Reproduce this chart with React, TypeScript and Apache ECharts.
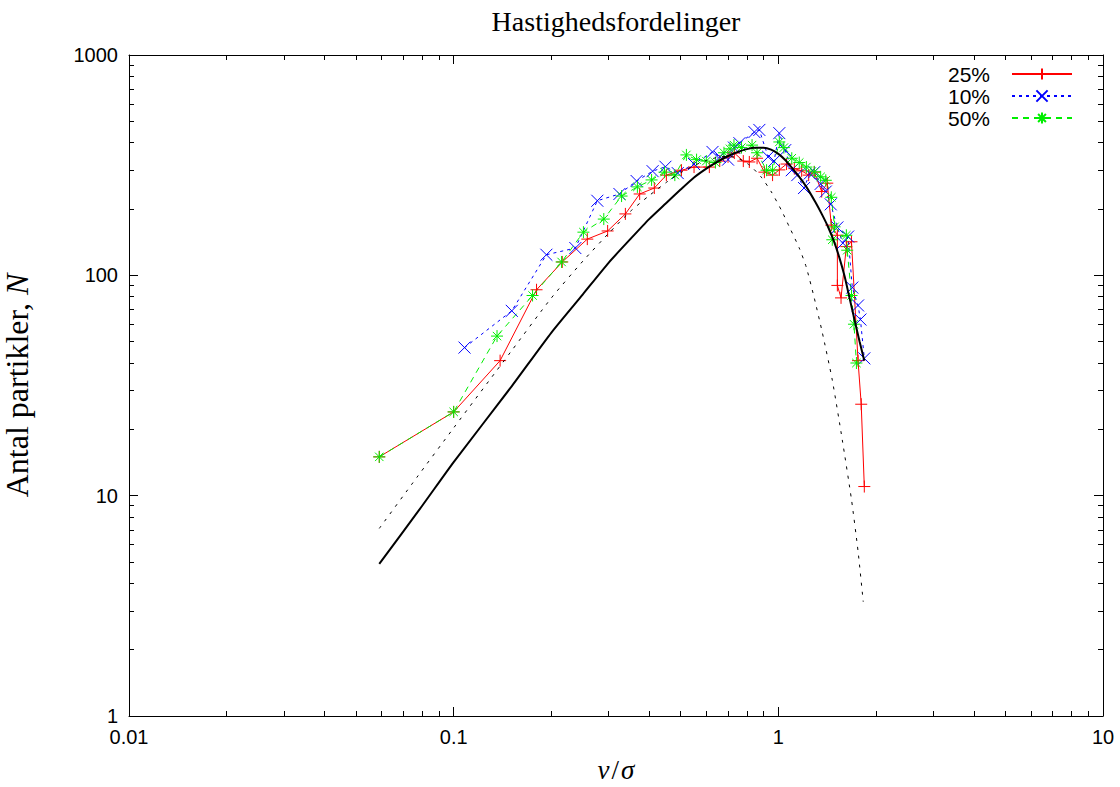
import React, { useEffect, useRef } from "react";
import * as echarts from "echarts";

const xTickLabels = ["0.01", "0.1", "1", "10"];
const yTickLabels = ["1", "10", "100", "1000"];

const seriesNames = ["25%", "10%", "50%"];

const red25: [number, number][] = [
  [0.059, 15], [0.1, 24], [0.139, 41], [0.18, 86], [0.216, 115], [0.258, 146],
  [0.298, 159], [0.338, 190], [0.374, 234], [0.415, 249], [0.452, 285], [0.503, 300],
  [0.55, 310], [0.613, 310], [0.66, 330], [0.7, 345], [0.732, 359], [0.78, 330],
  [0.814, 327], [0.86, 340], [0.906, 294], [0.96, 285], [1.007, 301], [1.06, 320],
  [1.12, 305], [1.18, 298], [1.24, 285], [1.29, 294], [1.36, 240], [1.415, 262],
  [1.456, 169], [1.52, 152], [1.52, 90], [1.56, 79], [1.62, 135], [1.68, 142],
  [1.76, 41], [1.8, 26], [1.84, 11],
];

const blue10: [number, number][] = [
  [0.108, 47], [0.151, 69], [0.193, 124], [0.237, 133], [0.277, 218], [0.324, 234],
  [0.366, 268], [0.41, 297], [0.449, 311], [0.49, 291], [0.55, 320], [0.627, 363],
  [0.66, 345], [0.7, 335], [0.73, 380], [0.759, 398], [0.844, 447], [0.874, 457],
  [0.93, 345], [0.97, 330], [1.007, 442], [1.05, 370], [1.1, 300], [1.144, 285],
  [1.2, 249], [1.25, 290], [1.29, 294], [1.35, 260], [1.4, 240], [1.45, 210],
  [1.52, 165], [1.58, 140], [1.64, 150], [1.69, 88], [1.76, 73], [1.79, 63], [1.84, 42],
];

const green50: [number, number][] = [
  [0.059, 15], [0.1, 24], [0.136, 53], [0.175, 81], [0.215, 115], [0.251, 157],
  [0.29, 180], [0.329, 229], [0.368, 252], [0.407, 271], [0.446, 294], [0.48, 285],
  [0.521, 352], [0.56, 335], [0.6, 330], [0.64, 325], [0.68, 360], [0.71, 375],
  [0.73, 390], [0.77, 380], [0.83, 390], [0.86, 360], [0.92, 300], [0.96, 300],
  [1.007, 403], [1.04, 380], [1.1, 340], [1.16, 325], [1.22, 310], [1.29, 295],
  [1.35, 280], [1.4, 270], [1.456, 226], [1.49, 166], [1.466, 145], [1.62, 152],
  [1.63, 130], [1.68, 81], [1.71, 60], [1.74, 40],
];

const fitSolid: [number, number][] = [
  [0.059, 4.9], [0.08, 9], [0.1, 14.2], [0.15, 31], [0.2, 55], [0.25, 82],
  [0.3, 114], [0.35, 146], [0.4, 180], [0.45, 212], [0.5, 245], [0.55, 278],
  [0.6, 305], [0.65, 328], [0.7, 348], [0.75, 363], [0.8, 374], [0.85, 379],
  [0.9, 379], [0.95, 372], [1.0, 356], [1.05, 334], [1.1, 308], [1.16, 280],
  [1.22, 252], [1.3, 215], [1.36, 190], [1.42, 167], [1.48, 144], [1.54, 121],
  [1.6, 99], [1.66, 78], [1.72, 62], [1.78, 50], [1.84, 41],
];

const fitDashed: [number, number][] = [
  [0.059, 7.1], [0.077, 12.1], [0.1, 20.3], [0.15, 45], [0.2, 79], [0.25, 116],
  [0.3, 155], [0.35, 195], [0.4, 230], [0.45, 263], [0.5, 292], [0.55, 315],
  [0.6, 332], [0.65, 343], [0.7, 347], [0.75, 340], [0.814, 317], [0.886, 279],
  [0.952, 239], [1.021, 198], [1.081, 166], [1.16, 133], [1.219, 109], [1.29, 79],
  [1.366, 55], [1.466, 33.5], [1.574, 17.9], [1.68, 9.6], [1.76, 5.6], [1.826, 3.3],
];

const plusPath = "path://M0,-6L0,6M-6,0L6,0";
const crossPath = "path://M-5,-5L5,5M-5,5L5,-5";
const starPath = "path://M0,-6L0,6M-6,0L6,0M-4.2,-4.2L4.2,4.2M-4.2,4.2L4.2,-4.2";

const findLabel = (labels: string[], v: number) =>
  labels.find((t) => Math.abs(Math.log10(+t) - Math.log10(v)) < 1e-6) ?? "";

const sansFont = "'Liberation Sans', Arial, sans-serif";
const serifFont = "'Liberation Serif', 'DejaVu Serif', serif";

export default function App() {
  const ref = useRef<HTMLDivElement>(null);

  useEffect(() => {
    if (!ref.current) return;
    const chart = echarts.init(ref.current, undefined, { renderer: "svg" });

    const axisCommon = {
      type: "log" as const,
      logBase: 10,
      axisLine: { show: true, onZero: false, lineStyle: { color: "#000", width: 1 } },
      axisTick: { show: true, inside: true, length: 9, lineStyle: { color: "#000" } },
      minorTick: { show: true, splitNumber: 9, length: 5, lineStyle: { color: "#000" } },
      splitLine: { show: false },
      minorSplitLine: { show: false },
    };

    const mk = (name: string, data: [number, number][], color: string, dash: any, symbol: string) => ({
      name,
      type: "line" as const,
      data,
      symbol,
      symbolSize: 12,
      showSymbol: true,
      lineStyle: { color, width: 1, type: dash },
      itemStyle: { color, borderColor: color, borderWidth: 1 },
      z: 3,
    });

    chart.setOption({
      animation: false,
      grid: {
        left: 129,
        right: 17,
        top: 55,
        bottom: 71,
        containLabel: false,
        outerBoundsMode: "none",
      },
      graphic: [
        {
          type: "text",
          x: 616,
          y: 21,
          style: {
            text: "Hastighedsfordelinger",
            font: `28px ${serifFont}`,
            fill: "#000",
            textAlign: "center",
            textVerticalAlign: "middle",
          },
        },
      ],
      legend: {
        data: seriesNames,
        orient: "vertical",
        right: 42,
        top: 58,
        align: "right",
        itemWidth: 60,
        itemHeight: 14,
        itemGap: 0,
        textStyle: {
          fontFamily: sansFont,
          fontSize: 21,
          lineHeight: 22,
          color: "#000",
          padding: [0, 17, 0, 0],
        },
        selectedMode: false,
      },
      xAxis: [
        {
          ...axisCommon,
          position: "bottom",
          min: 0.01,
          max: 10,
          axisLabel: {
            fontFamily: sansFont,
            fontSize: 20,
            color: "#000",
            margin: 11,
            formatter: (v: number) => findLabel(xTickLabels, v),
          },
          name: "{i|v}{n|/}{i|σ}",
          nameLocation: "middle",
          nameGap: 40,
          nameTextStyle: {
            rich: {
              i: { fontFamily: serifFont, fontStyle: "italic", fontSize: 27, color: "#000" },
              n: { fontFamily: serifFont, fontSize: 27, color: "#000", padding: [0, 2, 0, 2] },
            },
          },
        },
        {
          ...axisCommon,
          position: "top",
          min: 0.01,
          max: 10,
          axisLabel: { show: false },
        },
      ],
      yAxis: [
        {
          ...axisCommon,
          position: "left",
          min: 1,
          max: 1000,
          axisLabel: {
            fontFamily: sansFont,
            fontSize: 20,
            color: "#000",
            margin: 11,
            formatter: (v: number) => findLabel(yTickLabels, v),
          },
          name: "{n|Antal partikler, }{i|N}",
          nameLocation: "middle",
          nameGap: 96,
          nameRotate: 90,
          nameTextStyle: {
            rich: {
              i: { fontFamily: serifFont, fontStyle: "italic", fontSize: 32, color: "#000" },
              n: { fontFamily: serifFont, fontSize: 32, color: "#000" },
            },
          },
        },
        {
          ...axisCommon,
          position: "right",
          min: 1,
          max: 1000,
          axisLabel: { show: false },
        },
      ],
      series: [
        mk("25%", red25, "#ff0000", "solid", plusPath),
        mk("10%", blue10, "#0000ff", [3, 4], crossPath),
        mk("50%", green50, "#00ee00", [6, 5], starPath),
        {
          name: "fit",
          type: "line",
          data: fitSolid,
          symbol: "none",
          smooth: 0.2,
          lineStyle: { color: "#000", width: 2 },
          z: 4,
        },
        {
          name: "fit2",
          type: "line",
          data: fitDashed,
          symbol: "none",
          smooth: 0.2,
          lineStyle: { color: "#000", width: 1, type: [3, 6] },
          z: 4,
        },
      ],
    });

    return () => chart.dispose();
  }, []);

  return (
    <div
      ref={ref}
      style={{ position: "fixed", left: 0, top: 0, width: 1120, height: 787, background: "#fff" }}
    />
  );
}
